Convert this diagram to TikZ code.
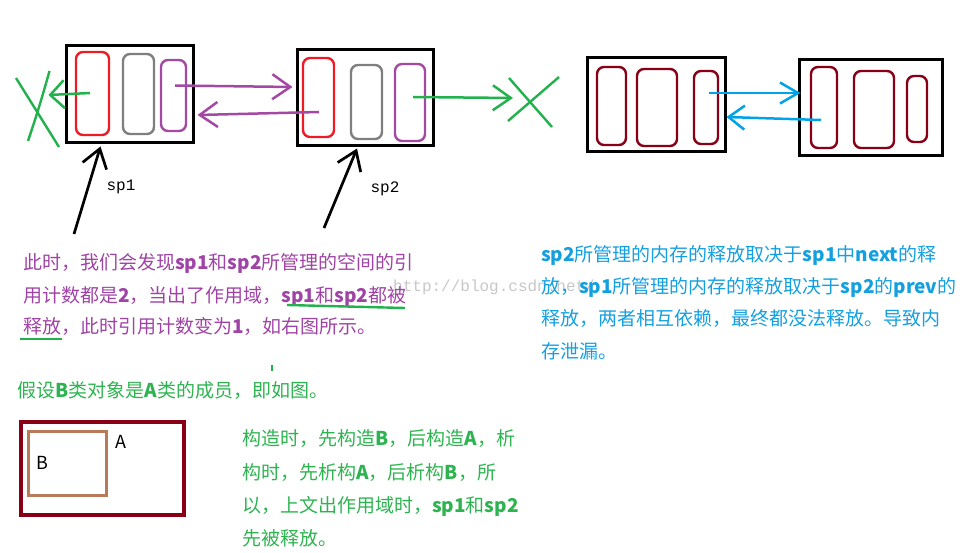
\documentclass[tikz,border=0pt]{standalone}
\usepackage{fontspec}
\usetikzlibrary{arrows.meta,positioning,calc}
\newfontfamily\cjk{Noto Sans CJK SC}
\newfontfamily\labelfont{Liberation Mono}
\definecolor{mspred}{HTML}{ED1C24}
\definecolor{mspgray}{HTML}{7F7F7F}
\definecolor{msppurple}{HTML}{A349A4}
\definecolor{mspgreen}{HTML}{22B14C}
\definecolor{mspcyan}{HTML}{00A2E8}
\definecolor{mspdark}{HTML}{880015}
\definecolor{mspbrown}{HTML}{B97A57}
\definecolor{txtpurple}{HTML}{A043A6}
\definecolor{txtcyan}{HTML}{14A0E0}
\definecolor{txtgreen}{HTML}{2DB450}
\tikzstyle{objbox} = [rectangle, draw=black, line width=3pt, inner sep=0pt]
\tikzstyle{field} = [rectangle, rounded corners=7pt, line width=2.4pt, inner sep=0pt]
\tikzstyle{barb} = [-{Straight Barb[length=18pt, width=25pt]}, line width=2.5pt]
\tikzstyle{para} = [anchor=base west, inner sep=0pt, font=\cjk\fontsize{19}{19}\selectfont]
\tikzstyle{ptrlabel} = [inner sep=0pt, font=\labelfont\fontsize{16}{16}\selectfont]

\begin{document}
\begin{tikzpicture}[x=1pt, y=-1pt]
\useasboundingbox (0,0) rectangle (977,553);
\node[anchor=base west, inner sep=0pt, font=\labelfont\fontsize{16}{16}\selectfont, text=black!22] (wm) at (393,292) {http://blog.csdn.net/};

% sp1 / sp2 before leaving the scope
\node[objbox, minimum width=127, minimum height=97] (box1) at (129.5,94.5) {};
\node[field, draw=mspred, minimum width=33, minimum height=83] (re1) at (92.5,93.5) {};
\node[field, draw=mspgray, minimum width=31, minimum height=80] (gr1) at (138.5,94) {};
\node[field, draw=msppurple, minimum width=25, minimum height=71] (pu1) at (173.5,95.5) {};
\node[objbox, minimum width=136, minimum height=96] (box2) at (365,98) {};
\node[field, draw=mspred, minimum width=31, minimum height=79] (re2) at (318.5,97.5) {};
\node[field, draw=mspgray, minimum width=31, minimum height=74] (gr2) at (366.5,102) {};
\node[field, draw=msppurple, minimum width=30, minimum height=77] (pu2) at (410,102.5) {};

\draw[barb, msppurple] ($(pu1.center)+(1.5,-10)$) -- ($(box2.west)+(-3,-11)$);
\draw[barb, msppurple] ($(re2.center)+(0.5,14.5)$) -- ($(box1.east)+(3,20.5)$);

% dead ends
\coordinate (xl) at (48.5,95);
\coordinate (xr) at (513,98);
\draw[mspgreen, line width=2.4pt] (16,78) -- (59,147);
\draw[mspgreen, line width=2.4pt] (49.5,71) .. controls (40,105) and (35,120) .. (28,141);
\draw[mspgreen, line width=2.4pt] (509,78) -- (552,127);
\draw[mspgreen, line width=2.4pt] (559,77) -- (508,121);
\draw[barb, mspgreen, -{Straight Barb[length=14pt, width=28pt]}] ($(re1.center)+(-2.5,-0.5)$) -- (xl);
\draw[barb, mspgreen] ($(pu2.center)+(3,-5.5)$) -- (xr);

% pointers
\coordinate (sp1tail) at (74,234);
\coordinate (sp2tail) at (324,228);
\draw[barb, black, line width=2.7pt] (sp1tail) -- ($(box1.south)+(-29,2)$);
\draw[barb, black, line width=2.7pt] (sp2tail) -- ($(box2.south)+(-8,1)$);
\node[ptrlabel] (sp1) at (121,187) {sp1};
\node[ptrlabel] (sp2) at (385,189) {sp2};

% after leaving the scope
\node[objbox, minimum width=138, minimum height=94] (box3) at (656,105) {};
\node[field, draw=mspdark, minimum width=29, minimum height=78] (dk1) at (611.5,106) {};
\node[field, draw=mspdark, minimum width=40, minimum height=77] (dk2) at (657,107.5) {};
\node[field, draw=mspdark, minimum width=24, minimum height=73] (dk3) at (706,107.5) {};
\node[objbox, minimum width=143, minimum height=96] (box4) at (870.5,108) {};
\node[field, draw=mspdark, minimum width=26, minimum height=81] (dk4) at (824,107.5) {};
\node[field, draw=mspdark, minimum width=40, minimum height=77] (dk5) at (874,109.5) {};
\node[field, draw=mspdark, minimum width=20, minimum height=66] (dk6) at (917,109) {};

\draw[barb, mspcyan, -{Straight Barb[length=18pt, width=21pt]}] ($(dk3.center)+(3,-14.5)$) -- ($(box4.west)+(3,-15)$);
\draw[barb, mspcyan, -{Straight Barb[length=16pt, width=24pt]}] ($(dk4.center)+(-3,12.5)$) -- ($(box3.east)+(0,12)$);

% explanation
\node[para, text=txtpurple] (pl1) at (23,270) {此时，我们会发现\textbf{sp1}和\textbf{sp2}所管理的空间的引};
\node[para, text=txtpurple] (pl2) at (23,302) {用计数都是\textbf{2}，当出了作用域，\textbf{sp1}和\textbf{sp2}都被};
\node[para, text=txtpurple] (pl3) at (23,334) {释放，此时引用计数变为\textbf{1}，如右图所示。};
\draw[mspgreen, line width=2.4pt] (287,305) -- (405,308);
\draw[mspgreen, line width=2.4pt] (20,339) -- (62,339);
\draw[mspgreen, line width=2.5pt] (272,365) -- (272,371);

\node[para, text=txtcyan] (cl1) at (541,262) {\textbf{sp2}所管理的内存的释放取决于\textbf{sp1}中\textbf{next}的释};
\node[para, text=txtcyan] (cl2) at (541,294) {放，\textbf{sp1}所管理的内存的释放取决于\textbf{sp2}的\textbf{prev}的};
\node[para, text=txtcyan] (cl3) at (541,326) {释放，两者相互依赖，最终都没法释放。导致内};
\node[para, text=txtcyan] (cl4) at (541,358) {存泄漏。};

% member object
\node[para, text=txtgreen] (gl0) at (17,397) {假设\textbf{B}类对象是\textbf{A}类的成员，即如图。};
\node[rectangle, draw=mspdark, line width=3.5pt, inner sep=0pt, minimum width=163, minimum height=93] (objA) at (102.5,468.5) {};
\node[rectangle, draw=mspbrown, line width=3pt, inner sep=0pt, minimum width=78, minimum height=64] (objB) at (67,463) {};
\node[inner sep=0pt, font=\cjk\fontsize{18}{18}\selectfont] (lblA) at (121,442) {A};
\node[inner sep=0pt, font=\cjk\fontsize{18}{18}\selectfont] (lblB) at (42.5,463) {B};

\node[para, text=txtgreen] (gl1) at (242,445) {构造时，先构造\textbf{B}，后构造\textbf{A}，析};
\node[para, text=txtgreen] (gl2) at (242,479) {构时，先析构\textbf{A}，后析构\textbf{B}，所};
\node[para, text=txtgreen] (gl3) at (242,512) {以，上文出作用域时，\textbf{sp1}和\textbf{sp2}};
\node[para, text=txtgreen] (gl4) at (242,545) {先被释放。};
\end{tikzpicture}
\end{document}
